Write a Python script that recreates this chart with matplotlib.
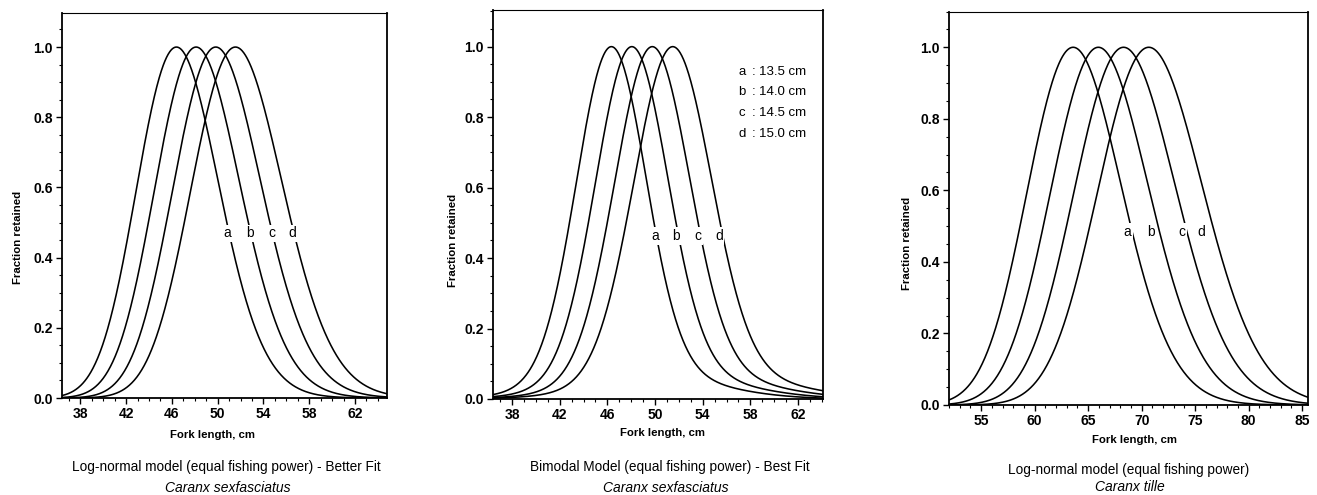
import numpy as np
import matplotlib
matplotlib.use("Agg")
import matplotlib.pyplot as plt
from matplotlib.ticker import MultipleLocator

# ---------------- data ----------------
curve_labels = ["a", "b", "c", "d"]
mesh_sizes = [13.5, 14.0, 14.5, 15.0]          # cm
legend_texts = ["13.5 cm", "14.0 cm", "14.5 cm", "15.0 cm"]

# Panel 1: log-normal model, C. sexfasciatus
p1_mode_a = 46.4        # modal length for mesh a (cm)
p1_sigma = 0.077        # log-scale spread
p1_label_x = [50.85, 52.8, 54.7, 56.55]

# Panel 2: bimodal model, C. sexfasciatus
p2_k1 = 46.3 / 13.5     # main mode per cm of mesh
p2_k2 = 2.9 / 13.5      # main spread per cm of mesh
p2_k3 = 48.5 / 13.5     # second mode per cm of mesh
p2_k4 = 6.0 / 13.5      # second spread per cm of mesh
p2_c = 0.08             # relative height of second mode
p2_label_x = [50.0, 51.8, 53.6, 55.36]

# Panel 3: log-normal model, C. tille
p3_mode_a = 63.6
p3_sigma = 0.069
p3_label_x = [68.66, 70.84, 73.73, 75.6]

x_ranges = [(36.4, 64.8), (36.4, 64.1), (52.0, 85.5)]
x_major = [4, 4, 5]
x_tick_start = [38, 38, 55]
subtitles = ["Log-normal model (equal fishing power) - Better Fit",
             "Bimodal Model (equal fishing power) - Best Fit",
             "Log-normal model (equal fishing power)"]
species = ["Caranx sexfasciatus", "Caranx sexfasciatus", "Caranx tille"]

plt.rcParams['font.family'] = ["Liberation Sans", "DejaVu Sans"]


def lognormal_curve(L, mode, sigma):
    mu = np.log(mode) + sigma ** 2
    r = (1.0 / L) * np.exp(-(np.log(L) - mu) ** 2 / (2 * sigma ** 2))
    rmax = (1.0 / mode) * np.exp(-(np.log(mode) - mu) ** 2 / (2 * sigma ** 2))
    return r / rmax


def bimodal_raw(L, m):
    return np.exp(-(L - p2_k1 * m) ** 2 / (2 * (p2_k2 * m) ** 2)) + \
        p2_c * np.exp(-(L - p2_k3 * m) ** 2 / (2 * (p2_k4 * m) ** 2))


def bimodal_curve(L, m):
    grid = np.linspace(0.5 * p2_k1 * m, 1.5 * p2_k1 * m, 20001)
    return bimodal_raw(L, m) / bimodal_raw(grid, m).max()


W, H = 1317, 495
fig = plt.figure(figsize=(W / 100, H / 100), dpi=100)

# axes boxes in pixels: left, right, top, bottom
boxes = [(62, 387, 13, 398), (493, 823, 10, 399), (949, 1307.5, 11.5, 405)]
ytops = [1.097, 1.104, 1.10]

axes = []
for i, (l, r, t, b) in enumerate(boxes):
    ax = fig.add_axes([l / W, 1 - b / H, (r - l) / W, (b - t) / H])
    axes.append(ax)
    ax.set_xlim(*x_ranges[i])
    ax.set_ylim(0, ytops[i])
    ax.set_xticks(np.arange(x_tick_start[i], x_ranges[i][1] + 0.01, x_major[i]))
    ax.xaxis.set_minor_locator(MultipleLocator(1))
    ax.set_yticks([0.0, 0.2, 0.4, 0.6, 0.8, 1.0])
    ax.yaxis.set_minor_locator(MultipleLocator(0.05))
    ax.set_yticklabels(["0.0", "0.2", "0.4", "0.6", "0.8", "1.0"])
    ax.tick_params(which="major", direction="out", length=4, width=1.0, pad=2.5,
                   labelsize=10)
    ax.tick_params(which="minor", direction="out", length=2.5, width=0.8)
    for lab in ax.get_xticklabels() + ax.get_yticklabels():
        lab.set_fontweight("bold")
    for s in ax.spines.values():
        s.set_linewidth(1.3)
    ax.spines["top"].set_linewidth(0.8)

# draw curves
for i, ax in enumerate(axes):
    L = np.linspace(x_ranges[i][0], x_ranges[i][1], 800)
    for j, m in enumerate(mesh_sizes):
        if i == 0:
            y = lognormal_curve(L, p1_mode_a * m / mesh_sizes[0], p1_sigma)
        elif i == 1:
            y = bimodal_curve(L, m)
        else:
            y = lognormal_curve(L, p3_mode_a * m / mesh_sizes[0], p3_sigma)
        ax.plot(L, y, color="black", lw=1.15)

# curve letter labels (break the curves)
label_sets = [(p1_label_x, 0.469), (p2_label_x, 0.463), (p3_label_x, 0.485)]
for ax, (xs, yv) in zip(axes, label_sets):
    for lab, xv in zip(curve_labels, xs):
        ax.text(xv, yv, lab, ha="center", va="center", fontsize=10,
                bbox=dict(facecolor="white", edgecolor="none", pad=1.2))

# legend in panel 2
leg_y = [0.928, 0.871, 0.812, 0.752]
for lab, txt, yv in zip(curve_labels, legend_texts, leg_y):
    axes[1].text(57.3, yv, lab, ha="center", va="center", fontsize=9.5)
    axes[1].text(58.3, yv, ":", ha="center", va="center", fontsize=9.5)
    axes[1].text(58.75, yv, txt, ha="left", va="center", fontsize=9.5)

# axis labels (figure coords, pixels)
xlab_pos = [(213, 435), (662, 433), (1135, 440)]
ylab_pos = [(18, 237), (453, 240), (907, 243)]
for (xp, yp) in xlab_pos:
    fig.text(xp / W, 1 - yp / H, "Fork length, cm", ha="center", va="center",
             fontsize=8.2, fontweight="bold")
for (xp, yp) in ylab_pos:
    fig.text(xp / W, 1 - yp / H, "Fraction retained", ha="center", va="center",
             rotation=90, fontsize=8.2, fontweight="bold")

sub_pos = [(226, 467), (670, 467), (1129, 470)]
sp_pos = [(228, 488), (666, 488), (1130, 487)]
for txt, (xp, yp) in zip(subtitles, sub_pos):
    fig.text(xp / W, 1 - yp / H, txt, ha="center", va="center", fontsize=9.8)
for txt, (xp, yp) in zip(species, sp_pos):
    fig.text(xp / W, 1 - yp / H, txt, ha="center", va="center", fontsize=10,
             style="italic")

fig.savefig("out.png", dpi=100)
